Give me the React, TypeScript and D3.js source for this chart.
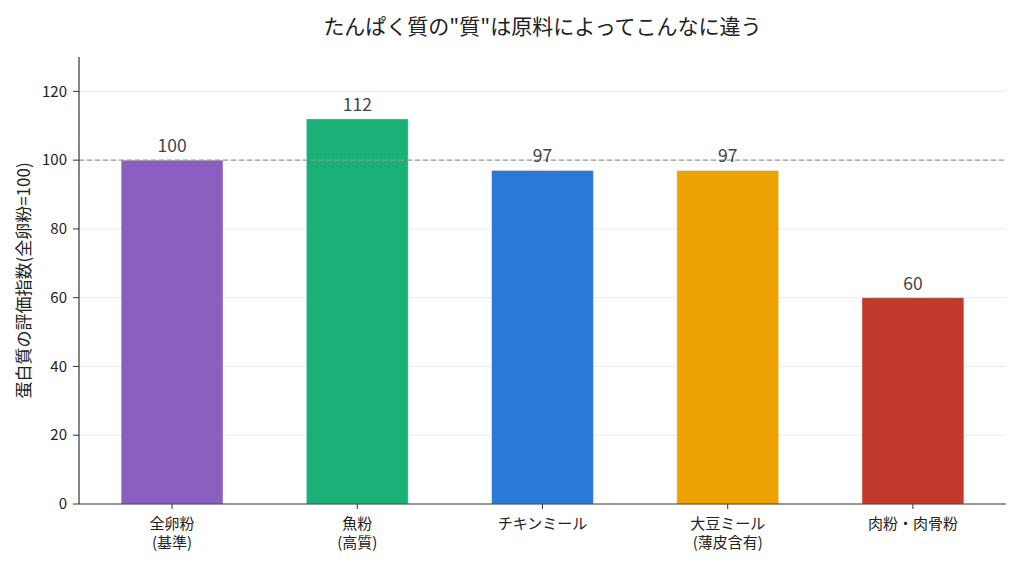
import * as d3 from "d3";

// Protein quality index by raw material (whole egg = 100)
const categories = [["全卵粉", "(基準)"], ["魚粉", "(高質)"], ["チキンミール"], ["大豆ミール", "(薄皮含有)"], ["肉粉・肉骨粉"]];
const values = [100, 112, 97, 97, 60];
const colors = ["#8b5fbf", "#1bb078", "#2a79d6", "#eca200", "#c0392b"];
const yTicks = [0, 20, 40, 60, 80, 100, 120];
const refValue = 100;

const W = 1024;
const H = 569;
const left = 79;
const right = 1006;
const top = 57;
const bottom = 504;
const font = "'Noto Sans CJK JP', 'Noto Sans', sans-serif";

export default function App() {
  const barW = 0.55;
  const pad = 0.05 * (values.length - 1 + barW);
  const x = d3
    .scaleLinear()
    .domain([-barW / 2 - pad, values.length - 1 + barW / 2 + pad])
    .range([left, right]);
  const y = d3.scaleLinear().domain([0, 130]).range([bottom, top]);
  const bw = x(barW) - x(0);

  return (
    <svg
      width={W}
      height={H}
      style={{ position: "absolute", left: 0, top: 0, background: "#fff" }}
      fontFamily={font}
    >
      <text x={(left + right) / 2} y={34} textAnchor="middle" fontSize={21} fill="#222">
        たんぱく質の"質"は原料によってこんなに違う
      </text>

      {/* grid */}
      {yTicks.slice(1).map((t) => (
        <line key={t} x1={left} x2={right} y1={y(t)} y2={y(t)} stroke="#ebebeb" strokeWidth={1} />
      ))}

      {values.map((v, i) => (
        <rect
          key={i}
          x={x(i) - bw / 2}
          y={y(v)}
          width={bw}
          height={y(0) - y(v)}
          fill={colors[i]}
          stroke="#fff"
          strokeOpacity={0.4}
          strokeWidth={1}
        />
      ))}

      <line
        x1={left}
        x2={right}
        y1={y(refValue)}
        y2={y(refValue)}
        stroke="#999"
        strokeWidth={1.3}
        strokeDasharray="5 3"
      />

      {values.map((v, i) => (
        <text key={i} x={x(i)} y={y(v) - 8} textAnchor="middle" fontSize={17.5} fill="#444">
          {v}
        </text>
      ))}

      {/* axes */}
      <line x1={left} x2={left} y1={top} y2={bottom} stroke="#333" strokeWidth={1.2} />
      <line x1={left} x2={right} y1={bottom} y2={bottom} stroke="#333" strokeWidth={1.2} />
      {yTicks.map((t) => (
        <g key={t} transform={`translate(${left},${y(t)})`}>
          <line x1={-6} x2={0} stroke="#333" />
          <text x={-12} dy="0.35em" textAnchor="end" fontSize={15} fill="#222">
            {t}
          </text>
        </g>
      ))}
      {categories.map((lines, i) => (
        <g key={i} transform={`translate(${x(i)},${bottom})`}>
          <line y1={0} y2={5} stroke="#333" />
          {lines.map((s, j) => (
            <text key={j} y={25 + j * 19} textAnchor="middle" fontSize={15} fill="#222">
              {s}
            </text>
          ))}
        </g>
      ))}

      <text
        transform={`translate(30,${(top + bottom) / 2}) rotate(-90)`}
        textAnchor="middle"
        fontSize={17}
        fill="#222"
      >
        蛋白質の評価指数(全卵粉=100)
      </text>
    </svg>
  );
}
